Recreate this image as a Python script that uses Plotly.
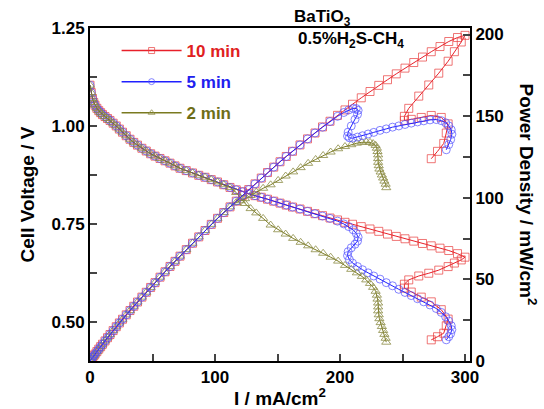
import plotly.graph_objects as go

# ---------------- data ----------------
# common low-current part (all three runs overlap here)
I_common = [0, 1, 2, 3, 4, 5.5, 7, 8.5, 10, 12, 14, 16, 18.5, 21, 23.5, 26, 29, 32, 35, 38,
            41.5, 45, 48.5, 52, 56, 60, 64, 68, 72, 77, 82, 87, 92, 97, 102, 107, 112]
V_common = [1.104, 1.085, 1.070, 1.060, 1.053, 1.045, 1.039, 1.034, 1.029, 1.024, 1.019, 1.014,
            1.007, 1.000, 0.992, 0.984, 0.975, 0.966, 0.958, 0.951, 0.943, 0.936, 0.929, 0.923,
            0.917, 0.911, 0.905, 0.898, 0.892, 0.886, 0.880, 0.874, 0.869, 0.863, 0.857, 0.850,
            0.843]
P_common = [0, 1.09, 2.14, 3.18, 4.21, 5.75, 7.27, 8.79, 10.29, 12.29, 14.27, 16.22, 18.63,
            21.0, 23.31, 25.58, 28.28, 30.91, 33.53, 36.14, 39.13, 42.12, 45.06, 48.0, 51.35,
            54.66, 57.92, 61.06, 64.22, 68.22, 72.16, 76.04, 79.95, 83.71, 87.41, 90.95, 94.42]

# 10 min
I_10 = [117, 122, 127, 132, 137, 142, 147, 152, 157, 162, 168, 174, 180, 186, 192, 198, 204, 210,
        217, 224, 231, 238, 245, 252, 259, 266, 273, 280, 287, 294, 300,
        297, 291.5, 286.5, 279, 271, 263, 255, 251.5, 251.5, 257, 265, 273, 281, 286.5, 285, 283,
        278, 273]
V_10 = [0.837, 0.832, 0.827, 0.822, 0.818, 0.813, 0.808, 0.803, 0.798, 0.793, 0.788, 0.782, 0.776,
        0.771, 0.765, 0.760, 0.754, 0.749, 0.743, 0.737, 0.731, 0.724, 0.718, 0.712, 0.706, 0.700,
        0.694, 0.688, 0.682, 0.674, 0.665,
        0.658, 0.650, 0.641, 0.632, 0.624, 0.617, 0.607, 0.596, 0.586, 0.576, 0.563, 0.551, 0.531,
        0.507, 0.490, 0.471, 0.462, 0.454]
P_10 = [97.93, 101.50, 105.03, 108.50, 112.07, 115.45, 118.78, 122.06, 125.29, 128.47, 132.38,
        136.07, 139.68, 143.41, 146.88, 150.48, 153.82, 157.29, 161.23, 165.09, 168.86, 172.31,
        175.91, 179.42, 182.85, 186.20, 189.46, 192.64, 195.73, 198.16, 199.50,
        195.43, 189.48, 183.65, 176.33, 169.10, 162.27, 154.79, 149.89, 147.38, 148.03, 149.20,
        150.42, 149.21, 145.26, 139.65, 133.29, 128.44, 123.94]

# 5 min
I_5 = [117, 122, 127, 132, 137, 142, 147, 152, 157, 162, 168, 174, 180, 186, 192, 198, 203, 207,
       210.5, 213, 214.5, 214, 212, 209, 206.5, 206, 207.5, 210, 214, 218, 222.5, 227, 232, 237,
       242, 247, 252, 257, 262, 267, 272, 277, 281, 284.5, 287, 289, 289.5, 288.5, 287, 285]
V_5 = [0.837, 0.832, 0.827, 0.822, 0.818, 0.813, 0.808, 0.803, 0.798, 0.793, 0.788, 0.782, 0.776,
       0.770, 0.764, 0.757, 0.750, 0.743, 0.735, 0.726, 0.716, 0.706, 0.698, 0.689, 0.679, 0.669,
       0.659, 0.650, 0.641, 0.633, 0.625, 0.617, 0.609, 0.600, 0.592, 0.583, 0.575, 0.567, 0.559,
       0.551, 0.543, 0.534, 0.524, 0.513, 0.502, 0.490, 0.480, 0.470, 0.462, 0.454]
P_5 = [97.93, 101.50, 105.03, 108.50, 112.07, 115.45, 118.78, 122.06, 125.29, 128.47, 132.38,
       136.07, 139.68, 143.22, 146.69, 149.89, 152.25, 153.80, 154.72, 154.64, 153.58, 151.08,
       147.98, 144.00, 140.21, 137.81, 136.74, 136.50, 137.17, 137.99, 139.06, 140.06, 141.29,
       142.20, 143.26, 144.00, 144.90, 145.72, 146.46, 147.12, 147.70, 147.92, 147.24, 145.95,
       144.07, 141.61, 138.96, 135.60, 132.59, 129.39]

# 2 min
I_2 = [117, 120.5, 124, 128.5, 133, 138.5, 144.5, 150.5, 156.5, 162.5, 168.5, 174.5, 180.5, 186.5,
       192.5, 198.5, 204, 209, 213.5, 217.5, 221, 224, 226.5, 228.5, 229.5, 230, 230.5, 230.5,
       230.5, 231, 231.5, 232.5, 233.5, 234.5, 235.5, 236.5, 237]
V_2 = [0.830, 0.815, 0.802, 0.789, 0.778, 0.764, 0.747, 0.735, 0.724, 0.713, 0.703, 0.694, 0.684,
       0.675, 0.665, 0.655, 0.644, 0.634, 0.625, 0.616, 0.607, 0.598, 0.588, 0.578, 0.568, 0.558,
       0.548, 0.538, 0.528, 0.518, 0.508, 0.498, 0.488, 0.478, 0.468, 0.458, 0.448]
P_2 = [97.11, 98.21, 99.45, 101.39, 103.47, 105.81, 107.94, 110.62, 113.31, 115.86, 118.46,
       121.10, 123.46, 125.89, 128.01, 130.02, 131.38, 132.51, 133.44, 133.98, 134.15, 133.95,
       133.18, 132.07, 130.36, 128.34, 126.31, 124.01, 121.70, 119.66, 117.60, 115.79, 113.95,
       112.09, 110.21, 108.32, 106.18]

series = [
    ("10 min", I_10, V_10, P_10, "square-open", "#e8202a", "rgba(232,60,60,0.7)", "#e02020"),
    ("5 min", I_5, V_5, P_5, "circle-open", "#2020ff", "rgba(80,80,255,0.7)", "#2020ee"),
    ("2 min", I_2, V_2, P_2, "triangle-up-open", "#7a7a20", "rgba(140,140,70,0.8)", "#6e6e18"),
]

FONT = "Arial, Liberation Sans, sans-serif"

fig = go.Figure()
# legend-only entries (small markers, like the reference legend)
for name, I, V, P, sym, lcol, mcol, tcol in series:
    fig.add_trace(go.Scatter(
        x=[None], y=[None], mode="lines+markers",
        name=f"<b><span style='color:{tcol}'>{name}</span></b>",
        legendgroup=name, showlegend=True,
        line=dict(color=lcol, width=1.5),
        marker=dict(symbol=sym, size=6, color=mcol, line=dict(width=1, color=mcol))))

for idx in [0, 1, 2]:
    name, I, V, P, sym, lcol, mcol, tcol = series[idx]
    fig.add_trace(go.Scatter(
        x=I_common + I, y=V_common + V, mode="lines+markers",
        name=name, legendgroup=name, showlegend=False,
        line=dict(color=lcol, width=1),
        marker=dict(symbol=sym, size=8, color=mcol, line=dict(width=1, color=mcol)),
        yaxis="y"))
for idx in [0, 2, 1]:
    name, I, V, P, sym, lcol, mcol, tcol = series[idx]
    fig.add_trace(go.Scatter(
        x=I_common + I, y=P_common + P, mode="lines+markers",
        name=name, legendgroup=name, showlegend=False,
        line=dict(color=lcol, width=1),
        marker=dict(symbol=sym, size=8, color=mcol, line=dict(width=1, color=mcol)),
        yaxis="y2"))

tickfont = dict(family=FONT, size=17, color="black", weight="bold")
titlefont = dict(family=FONT, size=19, color="black", weight="bold")

fig.update_layout(
    width=544, height=409,
    margin=dict(l=90, r=74, t=28, b=48, autoexpand=False),
    paper_bgcolor="white", plot_bgcolor="white",
    font=dict(family=FONT, color="black"),
    showlegend=True,
    legend=dict(x=0.07, y=0.985, xanchor="left", yanchor="top",
                bgcolor="rgba(0,0,0,0)", font=dict(family=FONT, size=17),
                itemwidth=60, tracegroupgap=6, traceorder="grouped"),
    xaxis=dict(range=[0, 304], tickvals=[0, 100, 200, 300], ticks="inside", ticklen=7,
               tickwidth=1.5, showline=True, linewidth=2, linecolor="black", mirror=True,
               showgrid=False, zeroline=False, tickfont=tickfont, automargin=False,
               minor=dict(dtick=50, tick0=0, ticks="inside", ticklen=7, tickwidth=1.5),
               title=dict(text="I / mA/cm<sup>2</sup>", font=titlefont, standoff=6)),
    yaxis=dict(range=[0.40, 1.25], tickvals=[0.50, 0.75, 1.00, 1.25], tickformat=".2f",
               ticks="inside", ticklen=7, tickwidth=1.5, showline=True, linewidth=2,
               linecolor="black", showgrid=False, zeroline=False, tickfont=tickfont,
               automargin=False,
               minor=dict(dtick=0.125, tick0=0.5, ticks="inside", ticklen=7, tickwidth=1.5),
               title=dict(text="Cell Voltage / V", font=titlefont, standoff=12)),
    yaxis2=dict(range=[0, 204], tickvals=[0, 50, 100, 150, 200], overlaying="y", side="right",
                ticks="inside", ticklen=7, tickwidth=1.5, showline=True, linewidth=2,
                linecolor="black", showgrid=False, zeroline=False, tickfont=tickfont,
                automargin=False,
                minor=dict(dtick=25, tick0=0, ticks="inside", ticklen=7, tickwidth=1.5)),
    annotations=[
        dict(text="Power Density / mW/cm<sup>2</sup>", x=1.155, y=0.5, xref="paper",
             yref="paper", textangle=90, showarrow=False, font=titlefont,
             xanchor="center", yanchor="middle"),
        dict(text="BaTiO<sub>3</sub>", x=0.613, y=1.03, xref="paper", yref="paper",
             showarrow=False, font=dict(family=FONT, size=17, color="black", weight="bold"),
             xanchor="center", yanchor="middle"),
        dict(text="0.5%H<sub>2</sub>S-CH<sub>4</sub>", x=0.687, y=0.965, xref="paper",
             yref="paper", showarrow=False,
             font=dict(family=FONT, size=17, color="black", weight="bold"),
             xanchor="center", yanchor="middle"),
    ],
)

fig.write_html("out.html")
